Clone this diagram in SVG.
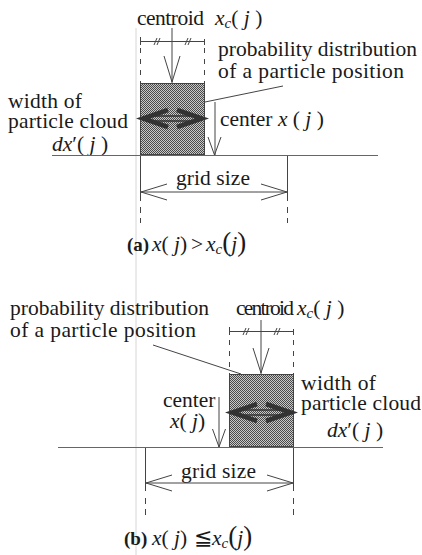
<svg xmlns="http://www.w3.org/2000/svg" width="422" height="555" viewBox="0 0 422 555">
<defs>
<pattern id="dots" width="2" height="2" patternUnits="userSpaceOnUse">
<rect width="2" height="2" fill="#c8c8c8"/>
<rect width="1" height="1" fill="#4a4a4a"/>
<rect x="1" y="1" width="1" height="1" fill="#4a4a4a"/>
</pattern>
</defs>
<style>
text{font-family:"Liberation Serif","DejaVu Serif",serif;font-size:21.5px;fill:#1a1a1a}
.i{font-style:italic}
.b{font-weight:bold;font-size:19px}
.ln{stroke:#444;stroke-width:1;fill:none}
.ax{stroke:#666;stroke-width:1;fill:none}
.dash{stroke:#444;stroke-width:1;fill:none;stroke-dasharray:5 6}
.head{stroke:#333;stroke-width:4.5;fill:none;stroke-linejoin:miter}
.shaft{stroke:#333;stroke-width:1.6;fill:none}
.box{fill:url(#dots);stroke:#444;stroke-width:1}
.art{stroke:#d6d6d6;stroke-width:1}
</style>
<rect width="422" height="555" fill="#fff"/>
<line class="art" x1="136" y1="28" x2="136" y2="555"/>

<!-- Panel (a) -->
<g id="a-cloud">
<rect class="box" x="140.5" y="83.5" width="64" height="71"/>
<line class="shaft" x1="150" y1="116" x2="195" y2="116"/>
<line class="shaft" x1="150" y1="121" x2="195" y2="121"/>
<polyline class="head" points="168,110 143,118.5 168,127"/>
<polyline class="head" points="177,110 202,118.5 177,127"/>
</g>
<g id="a-centroid">
<path class="ln" d="M140.5,37 V45 M140.5,41.5 H204.5 M204.5,39 V45"/>
<path class="ln" d="M154,45 L157,38 M157,45 L160,38 M185,45 L188,38 M188,45 L191,38"/>
<line class="dash" x1="140.5" y1="48" x2="140.5" y2="83"/>
<line class="dash" x1="204.5" y1="48" x2="204.5" y2="83"/>
<text x="137" y="25" textLength="67">centroid</text>
<text x="215" y="25"><tspan class="i">x</tspan><tspan class="i" font-size="15" dy="3">c</tspan><tspan dy="-3">(</tspan><tspan class="i"> j</tspan><tspan> )</tspan></text>
</g>
<g id="a-prob">
<text x="218" y="56" textLength="199">probability distribution</text>
<text x="218" y="78" textLength="186">of a particle position</text>
</g>
<g id="a-width">
<text x="8" y="108" textLength="74">width of</text>
<text x="8" y="128" textLength="120">particle cloud</text>
<text x="52" y="151"><tspan class="i">dx</tspan>′<tspan>(</tspan><tspan class="i"> j</tspan><tspan> )</tspan></text>
</g>
<g id="a-center">
<text x="220" y="126">center <tspan class="i">x</tspan><tspan> (</tspan><tspan class="i"> j</tspan><tspan> )</tspan></text>
</g>
<g id="a-grid">
<text x="176" y="185" textLength="74">grid size</text>
</g>
<g id="a-caption">
<text class="b" x="127" y="251">(a)</text>
<text x="152" y="251"><tspan class="i">x</tspan><tspan>(</tspan><tspan class="i"> j</tspan><tspan>)</tspan></text>
<text x="191" y="251">&gt;</text>
<text x="206" y="251"><tspan class="i">x</tspan><tspan class="i" font-size="15" dy="3">c</tspan><tspan dy="-3" font-size="27">(</tspan><tspan class="i">j</tspan><tspan font-size="27">)</tspan></text>
</g>

<!-- Panel (b) -->
<g id="b-cloud">
<rect class="box" x="229.5" y="374.5" width="64" height="72"/>
<line class="shaft" x1="239" y1="410" x2="284" y2="410"/>
<line class="shaft" x1="239" y1="415" x2="284" y2="415"/>
<polyline class="head" points="257,404 232,412.5 257,421"/>
<polyline class="head" points="266,404 291,412.5 266,421"/>
</g>
<g id="b-centroid">
<path class="ln" d="M229.5,327 V335 M229.5,331.5 H293.5 M293.5,329 V335"/>
<path class="ln" d="M243,335 L246,328 M246,335 L249,328 M274,335 L277,328 M277,335 L280,328"/>
<line class="dash" x1="229.5" y1="340" x2="229.5" y2="374"/>
<line class="dash" x1="293.5" y1="340" x2="293.5" y2="374"/>
<text x="236" y="315" textLength="58">centroid</text>
<text x="297" y="315"><tspan class="i">x</tspan><tspan class="i" font-size="15" dy="3">c</tspan><tspan dy="-3">(</tspan><tspan class="i"> j</tspan><tspan> )</tspan></text>
</g>
<g id="b-prob">
<text x="10" y="315" textLength="199">probability distribution</text>
<text x="10" y="337" textLength="186">of a particle position</text>
</g>
<g id="b-width">
<text x="301" y="390" textLength="75">width of</text>
<text x="301" y="410" textLength="120">particle cloud</text>
<text x="327" y="437"><tspan class="i">dx</tspan>′<tspan>(</tspan><tspan class="i"> j</tspan><tspan> )</tspan></text>
</g>
<g id="b-center">
<text><tspan x="163" y="407">center</tspan><tspan x="170" y="428" class="i">x</tspan><tspan>(</tspan><tspan class="i"> j</tspan><tspan>)</tspan></text>
</g>
<g id="b-grid">
<text x="181" y="478" textLength="75">grid size</text>
</g>
<g id="b-caption">
<text class="b" x="124" y="545">(b)</text>
<text x="152" y="545"><tspan class="i">x</tspan><tspan>(</tspan><tspan class="i"> j</tspan><tspan>)</tspan></text>
<text x="194" y="545" font-size="17">≦</text>
<text x="212" y="545"><tspan class="i">x</tspan><tspan class="i" font-size="15" dy="3">c</tspan><tspan dy="-3" font-size="27">(</tspan><tspan class="i">j</tspan><tspan font-size="27">)</tspan></text>
</g>

<!-- Connectors -->
<g id="connectors">
<!-- panel a -->
<line class="ln" x1="172" y1="28" x2="172" y2="83"/>
<polyline class="ln" points="164,56 172,82 180,56"/>
<line class="ln" x1="205" y1="102" x2="283" y2="86"/>
<line class="ln" x1="215" y1="102" x2="215" y2="155"/>
<polyline class="ln" points="208,137 214.5,155 221,137"/>
<line class="ax" x1="52" y1="155.5" x2="378" y2="155.5"/>
<line class="ln" x1="140.5" y1="156" x2="140.5" y2="201"/>
<line class="ln" x1="287.5" y1="156" x2="287.5" y2="201"/>
<path class="ln" d="M140.5,207 V213 M140.5,218 V223 M287.5,207 V213 M287.5,218 V223"/>
<line class="ln" x1="141" y1="192" x2="287" y2="192"/>
<polyline class="ln" points="167,184 141,192 167,200"/>
<polyline class="ln" points="261,184 287,192 261,200"/>
<!-- panel b -->
<line class="ln" x1="261" y1="320" x2="261" y2="374"/>
<polyline class="ln" points="253,348 261,373 269,348"/>
<line class="ln" x1="153" y1="345" x2="241" y2="374"/>
<line class="ln" x1="219" y1="397" x2="219" y2="447"/>
<polyline class="ln" points="212.5,429 219,447 225.5,429"/>
<line class="ax" x1="58" y1="447.5" x2="383" y2="447.5"/>
<line class="ln" x1="145.5" y1="448" x2="145.5" y2="491"/>
<line class="ln" x1="293.5" y1="448" x2="293.5" y2="491"/>
<path class="ln" d="M145.5,498 V504 M145.5,509 V515 M293.5,498 V504 M293.5,509 V515"/>
<line class="ln" x1="146" y1="483" x2="293" y2="483"/>
<polyline class="ln" points="172,475 146,483 172,491"/>
<polyline class="ln" points="267,475 293,483 267,491"/>
</g>
</svg>
